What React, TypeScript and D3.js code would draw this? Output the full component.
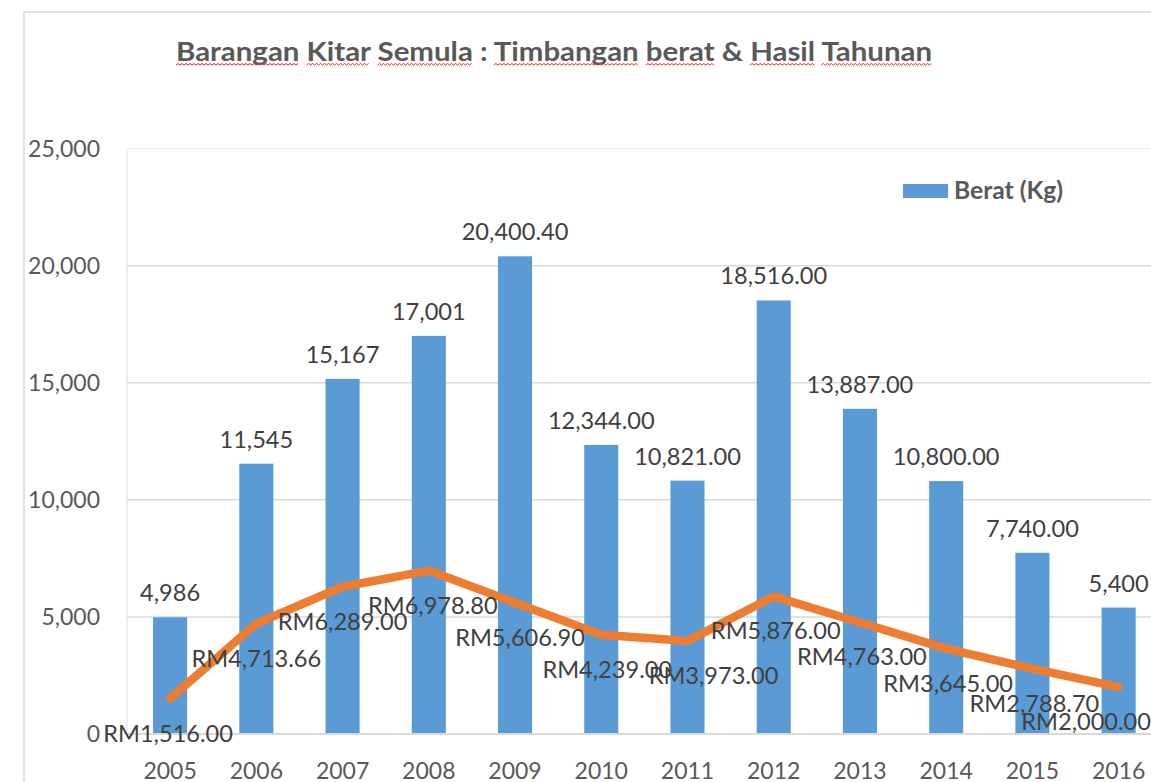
import React, { useEffect, useRef } from 'react';
import * as d3 from 'd3';

const years = ['2005', '2006', '2007', '2008', '2009', '2010', '2011', '2012', '2013', '2014', '2015', '2016'];
const berat = [4986, 11545, 15167, 17001, 20400.4, 12344, 10821, 18516, 13887, 10800, 7740, 5400];
const beratLabels = ['4,986', '11,545', '15,167', '17,001', '20,400.40', '12,344.00', '10,821.00', '18,516.00', '13,887.00', '10,800.00', '7,740.00', '5,400'];
const hasil = [1516, 4713.66, 6289, 6978.8, 5606.9, 4239, 3973, 5876, 4763, 3645, 2788.7, 2000];
const yTicks = [0, 5000, 10000, 15000, 20000, 25000];
const titleText = 'Barangan Kitar Semula : Timbangan berat & Hasil Tahunan';
const legendLabel = 'Berat (Kg)';

// style: horizontal nudges of the line labels (px), as placed in the original chart
const hasilLabelNudge = [-2, 0, 0, 4, 5, 6, 26, 2, 2, 2, 2, 0];

const W = 1151;
const H = 782;
const FONT = 'Lato, "Open Sans", sans-serif';

export default function App() {
  const ref = useRef<SVGSVGElement | null>(null);

  useEffect(() => {
    document.body.style.margin = '0';
    const svg = d3.select(ref.current);
    svg.selectAll('*').remove();

    const left = 127;
    const top = 148.6;
    const bottom = 734;
    const right = left + 12 * 86.23;

    const x = d3.scaleBand<string>().domain(years).range([left, right]).paddingInner(0.605).paddingOuter(0.3025);
    const y = d3.scaleLinear().domain([0, 25000]).range([bottom, top]);

    // chart area border
    svg.append('rect').attr('x', 24).attr('y', 12).attr('width', W).attr('height', H)
      .attr('fill', '#ffffff').attr('stroke', '#d9d9d9').attr('stroke-width', 1.5);

    // title
    const title = svg.append('text').attr('x', 176).attr('y', 61)
      .attr('font-family', FONT).attr('font-weight', 700).attr('font-size', 27)
      .attr('fill', '#595959').attr('textLength', 756).attr('lengthAdjust', 'spacingAndGlyphs')
      .text(titleText);

    // spell-check wavy underlines
    const tnode = title.node() as SVGTextElement;
    const words: [number, number][] = [];
    const re = /[A-Za-z]+/g;
    let m: RegExpExecArray | null;
    while ((m = re.exec(titleText)) !== null) words.push([m.index, m.index + m[0].length - 1]);
    words.forEach(([s, e]) => {
      try {
        const x0 = tnode.getStartPositionOfChar(s).x;
        const x1 = tnode.getEndPositionOfChar(e).x;
        const yy = 65;
        let d = `M${x0},${yy}`;
        let up = true;
        for (let xx = x0 + 2; xx <= x1; xx += 2) {
          d += ` L${xx},${up ? yy - 1.5 : yy}`;
          up = !up;
        }
        svg.append('path').attr('d', d).attr('fill', 'none').attr('stroke', '#ff2020').attr('stroke-width', 1);
      } catch (err) { /* ignore */ }
    });

    // plot area faint border
    svg.append('line').attr('x1', left).attr('x2', left).attr('y1', top).attr('y2', bottom)
      .attr('stroke', '#e3ebf6').attr('stroke-width', 1.5);

    // gridlines
    svg.append('g').selectAll('line').data(yTicks.filter(t => t > 0)).join('line')
      .attr('x1', left).attr('x2', W).attr('y1', d => y(d)).attr('y2', d => y(d))
      .attr('stroke', (d) => (d === 25000 ? '#edf1f7' : '#d9d9d9')).attr('stroke-width', 1.5);

    // y tick labels
    svg.append('g').selectAll('text').data(yTicks).join('text')
      .attr('x', 100).attr('y', d => y(d) + 8).attr('text-anchor', 'end')
      .attr('font-family', FONT).attr('font-size', 23).attr('fill', '#595959')
      .text(d => d3.format(',')(d));

    // bars
    svg.append('g').selectAll('rect').data(berat).join('rect')
      .attr('x', (_, i) => x(years[i]) as number).attr('width', x.bandwidth())
      .attr('y', d => y(d)).attr('height', d => bottom - y(d))
      .attr('fill', '#5b9bd5');

    // axis line
    svg.append('line').attr('x1', left).attr('x2', W).attr('y1', bottom).attr('y2', bottom)
      .attr('stroke', '#d9d9d9').attr('stroke-width', 2);

    // x labels
    svg.append('g').selectAll('text').data(years).join('text')
      .attr('x', d => (x(d) as number) + x.bandwidth() / 2).attr('y', 779).attr('text-anchor', 'middle')
      .attr('font-family', FONT).attr('font-size', 23).attr('fill', '#595959')
      .text(d => d);

    // bar labels
    svg.append('g').selectAll('text').data(berat).join('text')
      .attr('x', (_, i) => (x(years[i]) as number) + x.bandwidth() / 2)
      .attr('y', d => y(d) - 16).attr('text-anchor', 'middle')
      .attr('font-family', FONT).attr('font-size', 23.6).attr('fill', '#404040')
      .text((_, i) => beratLabels[i]);

    // line
    const line = d3.line<number>()
      .x((_, i) => (x(years[i]) as number) + x.bandwidth() / 2)
      .y(d => y(d));
    svg.append('path').datum(hasil).attr('d', line).attr('fill', 'none')
      .attr('stroke', '#ed7d31').attr('stroke-width', 8.5)
      .attr('stroke-linecap', 'round').attr('stroke-linejoin', 'round');

    // line labels (below)
    const fmt = d3.format(',.2f');
    const lbls = svg.append('g').selectAll('text').data(hasil).join('text')
      .attr('x', (_, i) => (x(years[i]) as number) + x.bandwidth() / 2 + hasilLabelNudge[i])
      .attr('y', d => y(d) + 43).attr('text-anchor', 'middle')
      .attr('font-family', FONT).attr('font-size', 23.6).attr('fill', '#404040')
      .text(d => 'RM' + fmt(d));
    lbls.each(function () {
      const el = this as SVGTextElement;
      const w = el.getComputedTextLength();
      const cx = +el.getAttribute('x')!;
      if (cx + w / 2 > W) el.setAttribute('x', String(W - w / 2));
    });

    // legend
    svg.append('rect').attr('x', 903).attr('y', 184).attr('width', 45).attr('height', 14).attr('fill', '#5b9bd5');
    svg.append('text').attr('x', 954).attr('y', 199)
      .attr('font-family', FONT).attr('font-weight', 700).attr('font-size', 24).attr('fill', '#595959')
      .attr('textLength', 109).attr('lengthAdjust', 'spacingAndGlyphs')
      .text(legendLabel);
  }, []);

  return (
    <svg ref={ref} width={W} height={H} style={{ position: 'absolute', left: 0, top: 0, display: 'block' }} />
  );
}
